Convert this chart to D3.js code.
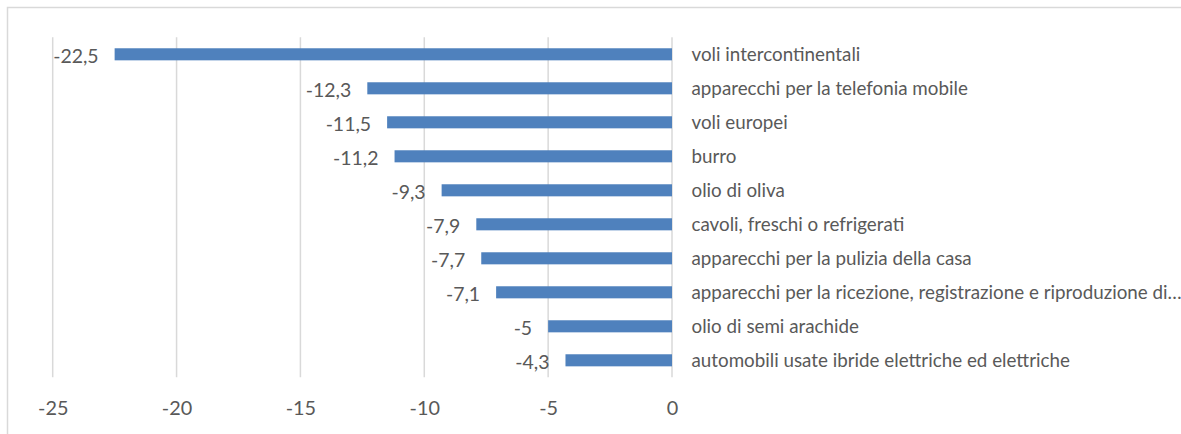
<!DOCTYPE html>
<html><head><meta charset="utf-8">
<script src="https://cdn.jsdelivr.net/npm/d3@7"></script>
<style>
html,body{margin:0;padding:0;background:#fff;}
svg{display:block;}
text{font-family:Lato,"Open Sans",sans-serif;fill:#595959;}
</style></head>
<body>
<script>
const categories = [
  "voli intercontinentali",
  "apparecchi per la telefonia mobile",
  "voli europei",
  "burro",
  "olio di oliva",
  "cavoli, freschi o refrigerati",
  "apparecchi per la pulizia della casa",
  "apparecchi per la ricezione, registrazione e riproduzione di…",
  "olio di semi arachide",
  "automobili usate ibride elettriche ed elettriche"
];
const values = [-22.5, -12.3, -11.5, -11.2, -9.3, -7.9, -7.7, -7.1, -5, -4.3];
const valueLabels = ["-22,5", "-12,3", "-11,5", "-11,2", "-9,3", "-7,9", "-7,7", "-7,1", "-5", "-4,3"];
const tickValues = [-25, -20, -15, -10, -5, 0];
const tickLabels = ["-25", "-20", "-15", "-10", "-5", "0"];

const W = 1181, H = 434;
const svg = d3.select("body").append("svg").attr("width", W).attr("height", H);

// chart border
svg.append("rect").attr("x", 7.5).attr("y", 7.5).attr("width", W + 20).attr("height", H + 20)
  .attr("fill", "none").attr("stroke", "#D9D9D9").attr("stroke-width", 1.5);

const x = d3.scaleLinear().domain([-25, 0]).range([52.7, 672]);
const y = d3.scaleBand().domain(categories).range([37.3, 377.3]).paddingInner(0.645).paddingOuter(0.3225);

// fit font size to a target width
function fit(sample, target, base) {
  const t = svg.append("text").style("font-size", base + "px").text(sample);
  const w = t.node().getComputedTextLength();
  t.remove();
  return base * target / w;
}
const catSize = fit("voli intercontinentali", 169, 20);
const valSize = fit("-12,3", 45.5, 20);
const tickSize = fit("-25", 30.4, 20);

// gridlines
svg.append("g").selectAll("line").data(tickValues).join("line")
  .attr("x1", d => x(d)).attr("x2", d => x(d))
  .attr("y1", 37.3).attr("y2", 377.3)
  .attr("stroke", "#D9D9D9").attr("stroke-width", 1.5);

// bars
svg.append("g").selectAll("rect").data(values).join("rect")
  .attr("x", d => x(d)).attr("width", d => x(0) - x(d))
  .attr("y", (d, i) => y(categories[i])).attr("height", y.bandwidth())
  .attr("fill", "#4F81BD");

// value labels
svg.append("g").selectAll("text").data(values).join("text")
  .attr("x", d => x(d) - 16)
  .attr("y", (d, i) => y(categories[i]) + y.bandwidth() / 2 + 8.4)
  .attr("text-anchor", "end").style("font-size", valSize + "px")
  .text((d, i) => valueLabels[i]);

// category labels
svg.append("g").selectAll("text").data(categories).join("text")
  .attr("x", x(0) + 19.5)
  .attr("y", d => y(d) + y.bandwidth() / 2 + 6.4)
  .style("font-size", catSize + "px")
  .text(d => d);

// x axis tick labels
const axis = svg.append("g").attr("transform", "translate(0,377.3)")
  .call(d3.axisBottom(x).tickValues(tickValues).tickFormat((d, i) => tickLabels[i]).tickSize(0).tickPadding(0));
axis.select(".domain").remove();
axis.selectAll("text").attr("y", 0).attr("dy", null)
  .attr("transform", "translate(0,37.7)")
  .style("font-size", tickSize + "px").attr("fill", "#595959")
  .style("font-family", "Lato, 'Open Sans', sans-serif");
</script>
</body></html>
